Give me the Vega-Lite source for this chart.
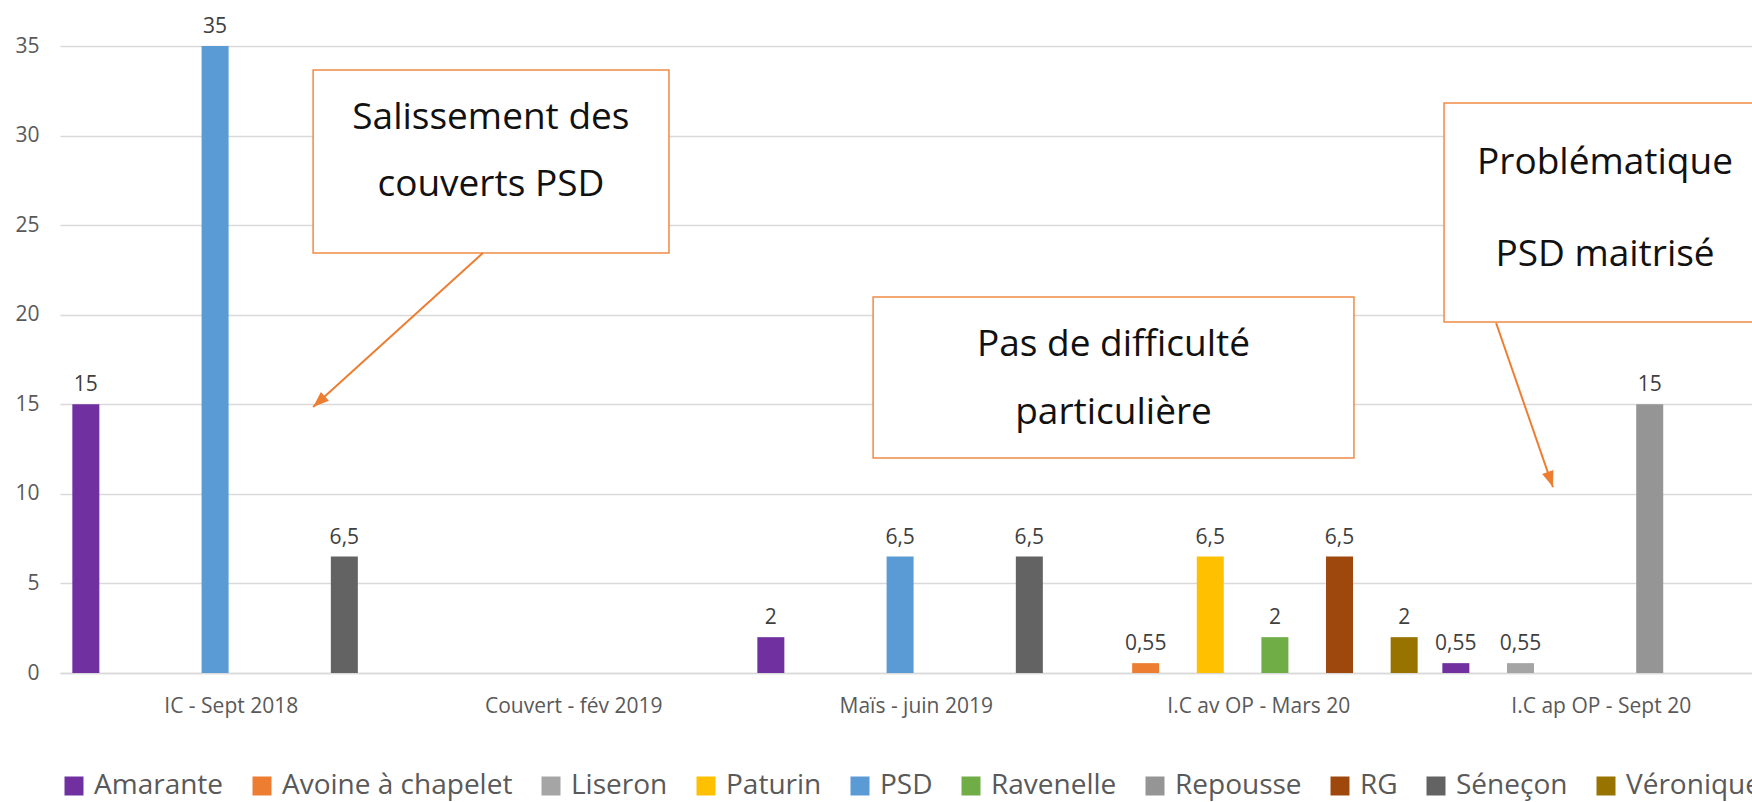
{
  "$schema": "https://vega.github.io/schema/vega-lite/v6.json",
  "width": 1692,
  "height": 627,
  "autosize": "none",
  "padding": {"left": 60, "top": 46, "right": 0, "bottom": 129},
  "background": "white",
  "config": {
    "view": {"stroke": null},
    "font": "Open Sans",
    "locale": {"number": {"decimal": ",", "thousands": " ", "grouping": [3], "currency": ["", " €"]}}
  },
  "datasets": {
    "bars": [
      {"periode": "IC - Sept 2018", "espece": "Amarante", "valeur": 15},
      {"periode": "IC - Sept 2018", "espece": "PSD", "valeur": 35},
      {"periode": "IC - Sept 2018", "espece": "Séneçon", "valeur": 6.5},
      {"periode": "Maïs - juin 2019", "espece": "Amarante", "valeur": 2},
      {"periode": "Maïs - juin 2019", "espece": "PSD", "valeur": 6.5},
      {"periode": "Maïs - juin 2019", "espece": "Séneçon", "valeur": 6.5},
      {"periode": "I.C av OP - Mars 20", "espece": "Avoine à chapelet", "valeur": 0.55},
      {"periode": "I.C av OP - Mars 20", "espece": "Paturin", "valeur": 6.5},
      {"periode": "I.C av OP - Mars 20", "espece": "Ravenelle", "valeur": 2},
      {"periode": "I.C av OP - Mars 20", "espece": "RG", "valeur": 6.5},
      {"periode": "I.C av OP - Mars 20", "espece": "Véronique", "valeur": 2},
      {"periode": "I.C ap OP - Sept 20", "espece": "Amarante", "valeur": 0.55},
      {"periode": "I.C ap OP - Sept 20", "espece": "Liseron", "valeur": 0.55},
      {"periode": "I.C ap OP - Sept 20", "espece": "Repousse", "valeur": 15}
    ],
    "boxes": [
      {"note": "a", "u1": 0.739, "u2": 1.778, "v1": 23.45, "v2": 33.66},
      {"note": "b", "u1": 2.374, "u2": 3.778, "v1": 12.0, "v2": 20.99},
      {"note": "c", "u1": 4.041, "u2": 4.981, "v1": 19.59, "v2": 31.82}
    ],
    "notes": [
      {"u": 1.258, "v": 30.98, "ligne": "Salissement des"},
      {"u": 1.258, "v": 27.24, "ligne": "couverts PSD"},
      {"u": 3.076, "v": 18.31, "ligne": "Pas de difficulté"},
      {"u": 3.076, "v": 14.51, "ligne": "particulière"},
      {"u": 4.511, "v": 28.47, "ligne": "Problématique"},
      {"u": 4.511, "v": 23.33, "ligne": "PSD maitrisé"}
    ],
    "arrows": [
      {"id": "a", "u": 1.235, "v": 23.45, "u2": 0.739, "v2": 14.85},
      {"id": "c", "u": 4.193, "v": 19.54, "u2": 4.359, "v2": 10.38}
    ]
  },
  "layer": [
    {
      "data": {"name": "bars"},
      "mark": {"type": "bar"},
      "encoding": {
        "x": {
          "field": "periode", "type": "nominal", "sort": null,
          "scale": {"domain": ["IC - Sept 2018", "Couvert - fév 2019", "Maïs - juin 2019", "I.C av OP - Mars 20", "I.C ap OP - Sept 20"], "range": [0, 1712.5], "paddingInner": 0, "paddingOuter": 0},
          "axis": {"title": null, "ticks": false, "labelAngle": 0, "labelPadding": 22, "labelFontSize": 21, "labelColor": "#595959", "labelFont": "Open Sans", "labelLimit": 0, "domainColor": "#d9d9d9", "domainWidth": 1.5, "grid": false}
        },
        "xOffset": {
          "field": "espece", "type": "nominal",
          "scale": {"domain": ["Amarante", "Avoine à chapelet", "Liseron", "Paturin", "PSD", "Ravenelle", "Repousse", "RG", "Séneçon", "Véronique"], "paddingInner": 0.164, "paddingOuter": 0.382}
        },
        "y": {
          "field": "valeur", "type": "quantitative", "title": null,
          "scale": {"domain": [0, 35], "nice": false},
          "axis": {"title": null, "domain": false, "ticks": false, "labelPadding": 21, "labelFontSize": 21, "labelColor": "#595959", "labelFont": "Open Sans", "gridColor": "#d9d9d9", "gridWidth": 1.3, "values": [0, 5, 10, 15, 20, 25, 30, 35]}
        },
        "color": {
          "field": "espece", "type": "nominal",
          "scale": {
            "domain": ["Amarante", "Avoine à chapelet", "Liseron", "Paturin", "PSD", "Ravenelle", "Repousse", "RG", "Séneçon", "Véronique"],
            "range": ["#7030a0", "#ed7d31", "#a5a5a5", "#ffc000", "#5b9bd5", "#70ad47", "#959595", "#9e480e", "#636363", "#997300"]
          },
          "legend": {"orient": "bottom", "direction": "horizontal", "title": null, "padding": 0, "symbolType": "square", "symbolSize": 361, "symbolStrokeWidth": 0, "labelFontSize": 28, "labelColor": "#595959", "labelFont": "Open Sans", "columnPadding": 24, "labelOffset": 6, "offset": 56, "labelLimit": 0}
        }
      }
    },
    {
      "data": {"name": "bars"},
      "mark": {"type": "text", "baseline": "bottom", "dy": -9, "fontSize": 21, "color": "#404040", "font": "Open Sans"},
      "encoding": {
        "x": {"field": "periode", "type": "nominal", "sort": null, "axis": null,
          "scale": {"domain": ["IC - Sept 2018", "Couvert - fév 2019", "Maïs - juin 2019", "I.C av OP - Mars 20", "I.C ap OP - Sept 20"], "range": [0, 1712.5], "paddingInner": 0, "paddingOuter": 0}},
        "xOffset": {"field": "espece", "type": "nominal"},
        "y": {"field": "valeur", "type": "quantitative", "title": null, "scale": {"domain": [0, 35], "nice": false}},
        "text": {"field": "valeur", "type": "quantitative", "format": "~g"}
      }
    },
    {
      "data": {"name": "boxes"},
      "mark": {"type": "rect", "fill": "white", "stroke": "#f08a45", "strokeWidth": 1.5},
      "encoding": {
        "x": {"field": "u1", "type": "quantitative", "axis": null, "scale": {"domain": [0, 5], "range": [0, 1712.5], "nice": false, "zero": false}},
        "x2": {"field": "u2"},
        "y": {"field": "v1", "type": "quantitative", "title": null, "scale": {"domain": [0, 35], "nice": false}},
        "y2": {"field": "v2"}
      }
    },
    {
      "data": {"name": "notes"},
      "mark": {"type": "text", "fontSize": 37, "font": "Open Sans", "color": "#111111", "baseline": "middle", "align": "center"},
      "encoding": {
        "x": {"field": "u", "type": "quantitative", "axis": null, "scale": {"domain": [0, 5], "range": [0, 1712.5], "nice": false, "zero": false}},
        "y": {"field": "v", "type": "quantitative", "title": null, "scale": {"domain": [0, 35], "nice": false}},
        "text": {"field": "ligne", "type": "nominal"}
      }
    },
    {
      "data": {"name": "arrows"},
      "mark": {"type": "rule", "color": "#ed7d31", "strokeWidth": 2},
      "encoding": {
        "x": {"field": "u", "type": "quantitative", "axis": null, "scale": {"domain": [0, 5], "range": [0, 1712.5], "nice": false, "zero": false}},
        "x2": {"field": "u2"},
        "y": {"field": "v", "type": "quantitative", "title": null, "scale": {"domain": [0, 35], "nice": false}},
        "y2": {"field": "v2"}
      }
    },
    {
      "data": {"name": "arrows"},
      "transform": [{"filter": "datum.id === 'a'"}],
      "mark": {"type": "point", "shape": "M0,0L-0.45,1.2L0.45,1.2Z", "filled": true, "opacity": 1, "color": "#ed7d31", "size": 700, "angle": 228, "strokeWidth": 0},
      "encoding": {
        "x": {"field": "u2", "type": "quantitative", "axis": null, "scale": {"domain": [0, 5], "range": [0, 1712.5], "nice": false, "zero": false}},
        "y": {"field": "v2", "type": "quantitative", "title": null, "scale": {"domain": [0, 35], "nice": false}}
      }
    },
    {
      "data": {"name": "arrows"},
      "transform": [{"filter": "datum.id === 'c'"}],
      "mark": {"type": "point", "shape": "M0,0L-0.45,1.2L0.45,1.2Z", "filled": true, "opacity": 1, "color": "#ed7d31", "size": 700, "angle": 161, "strokeWidth": 0},
      "encoding": {
        "x": {"field": "u2", "type": "quantitative", "axis": null, "scale": {"domain": [0, 5], "range": [0, 1712.5], "nice": false, "zero": false}},
        "y": {"field": "v2", "type": "quantitative", "title": null, "scale": {"domain": [0, 35], "nice": false}}
      }
    }
  ],
  "resolve": {"scale": {"x": "independent"}}
}
